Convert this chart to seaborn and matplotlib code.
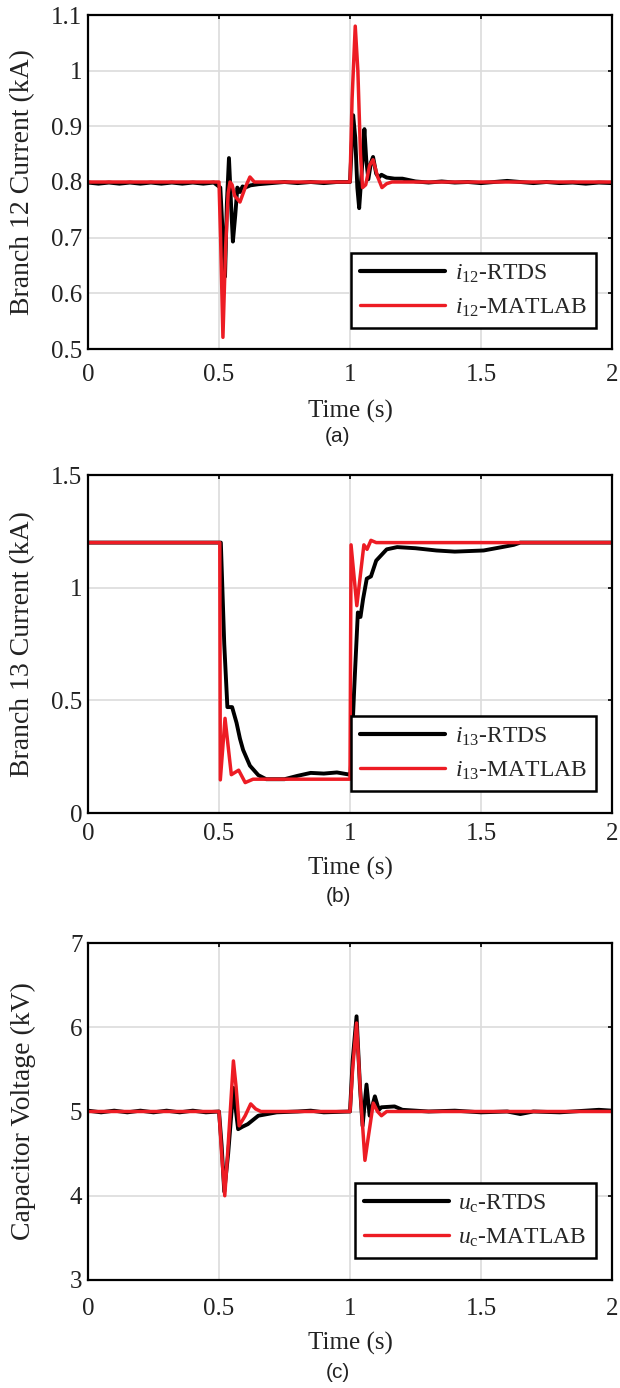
import matplotlib
matplotlib.use("Agg")
import matplotlib.pyplot as plt
import matplotlib.ticker as mticker
import pandas as pd
import seaborn as sns

# (a) branch 12 current, kA  -- (time s, value)
i12_rtds = [(0, 0.799), (0.04, 0.797), (0.08, 0.799), (0.12, 0.797), (0.16, 0.799), (0.2, 0.797),
            (0.24, 0.799), (0.28, 0.797), (0.32, 0.799), (0.36, 0.797), (0.4, 0.799), (0.44, 0.797),
            (0.48, 0.799), (0.505, 0.790), (0.515, 0.700), (0.523, 0.630), (0.53, 0.760), (0.538, 0.843),
            (0.546, 0.760), (0.553, 0.693), (0.562, 0.740), (0.57, 0.790), (0.58, 0.782), (0.59, 0.792),
            (0.6, 0.790), (0.62, 0.794), (0.65, 0.796), (0.7, 0.798), (0.75, 0.800), (0.8, 0.798),
            (0.85, 0.800), (0.9, 0.798), (0.95, 0.800), (1.0, 0.800), (1.005, 0.850), (1.012, 0.920),
            (1.02, 0.880), (1.028, 0.790), (1.035, 0.753), (1.045, 0.820), (1.055, 0.895), (1.062, 0.840),
            (1.07, 0.805), (1.08, 0.835), (1.088, 0.845), (1.1, 0.815), (1.11, 0.808), (1.12, 0.813),
            (1.14, 0.808), (1.17, 0.806), (1.2, 0.806), (1.25, 0.801), (1.3, 0.799), (1.35, 0.801),
            (1.4, 0.799), (1.45, 0.800), (1.5, 0.798), (1.55, 0.800), (1.6, 0.802), (1.65, 0.800),
            (1.7, 0.798), (1.75, 0.800), (1.8, 0.798), (1.85, 0.799), (1.9, 0.797), (1.95, 0.799), (2.0, 0.798)]
i12_matlab = [(0, 0.800), (0.5, 0.800), (0.506, 0.700), (0.515, 0.521), (0.525, 0.680), (0.535, 0.780),
              (0.542, 0.800), (0.55, 0.795), (0.56, 0.775), (0.58, 0.764), (0.6, 0.790), (0.618, 0.809),
              (0.635, 0.800), (1.0, 0.800), (1.008, 0.950), (1.02, 1.080), (1.03, 1.000), (1.04, 0.850),
              (1.048, 0.790), (1.06, 0.795), (1.075, 0.830), (1.088, 0.840), (1.105, 0.810), (1.122, 0.790),
              (1.14, 0.797), (1.16, 0.800), (2.0, 0.800)]

# (b) branch 13 current, kA
i13_rtds = [(0, 1.2), (0.507, 1.2), (0.52, 0.75), (0.532, 0.47), (0.55, 0.47), (0.567, 0.40), (0.58, 0.33),
            (0.592, 0.28), (0.618, 0.21), (0.65, 0.168), (0.68, 0.15), (0.75, 0.15), (0.8, 0.165),
            (0.85, 0.178), (0.9, 0.175), (0.95, 0.18), (1.0, 0.17), (1.002, 0.17), (1.016, 0.55),
            (1.03, 0.89), (1.04, 0.87), (1.05, 0.95), (1.064, 1.04), (1.08, 1.05), (1.1, 1.12),
            (1.14, 1.17), (1.18, 1.18), (1.25, 1.175), (1.33, 1.165), (1.4, 1.16), (1.51, 1.165),
            (1.58, 1.18), (1.625, 1.19), (1.65, 1.2), (2.0, 1.2)]
i13_matlab = [(0, 1.2), (0.503, 1.2), (0.505, 0.147), (0.523, 0.42), (0.547, 0.17), (0.575, 0.19),
              (0.6, 0.135), (0.63, 0.15), (1.0, 0.15), (1.004, 1.19), (1.026, 0.92), (1.053, 1.19),
              (1.065, 1.17), (1.08, 1.21), (1.1, 1.2), (2.0, 1.2)]

# (c) capacitor voltage, kV
uc_rtds = [(0, 5.01), (0.05, 4.99), (0.1, 5.01), (0.15, 4.99), (0.2, 5.01), (0.25, 4.99), (0.3, 5.01),
           (0.35, 4.99), (0.4, 5.01), (0.45, 4.99), (0.5, 5.0), (0.51, 4.6), (0.52, 4.05), (0.535, 4.5),
           (0.555, 5.28), (0.565, 5.0), (0.573, 4.79), (0.59, 4.82), (0.61, 4.85), (0.63, 4.9),
           (0.65, 4.95), (0.72, 4.99), (0.8, 5.0), (0.85, 5.01), (0.9, 4.99), (1.0, 5.0), (1.01, 5.6),
           (1.025, 6.13), (1.038, 5.3), (1.048, 4.83), (1.063, 5.32), (1.075, 4.95), (1.095, 5.18),
           (1.11, 5.02), (1.12, 5.05), (1.17, 5.06), (1.2, 5.02), (1.3, 5.0), (1.4, 5.01), (1.5, 4.99),
           (1.6, 5.0), (1.65, 4.97), (1.7, 5.0), (1.8, 4.99), (1.9, 5.01), (1.95, 5.02), (2.0, 5.01)]
uc_matlab = [(0, 5.0), (0.5, 5.0), (0.51, 4.5), (0.522, 4.0), (0.535, 4.6), (0.555, 5.6), (0.565, 5.3),
             (0.577, 4.83), (0.6, 4.95), (0.621, 5.09), (0.64, 5.03), (0.66, 5.0), (1.0, 5.0), (1.01, 5.5),
             (1.025, 6.05), (1.04, 5.2), (1.057, 4.42), (1.07, 4.7), (1.089, 5.1), (1.105, 5.0),
             (1.12, 4.95), (1.14, 5.0), (2.0, 5.0)]

xticks = [0, 0.5, 1, 1.5, 2]

sns.set_theme(style="whitegrid")
plt.rcParams['font.family'] = ['Liberation Serif', 'DejaVu Serif']
plt.rcParams['mathtext.fontset'] = 'custom'
plt.rcParams['mathtext.rm'] = 'Liberation Serif'
plt.rcParams['mathtext.it'] = 'Liberation Serif:italic'

fig = plt.figure(figsize=(6.2, 13.88), dpi=100)


def panel(rect, rtds, matlab, labels, ylim, yticks, ylabel, tpad, xlab_y, leg_y, cap, cap_y):
    ax = fig.add_axes(rect)
    ax.set_facecolor('white')
    for pts, col, lw, lab in [(rtds, 'black', 2.8, labels[0]), (matlab, '#ed1c24', 2.5, labels[1])]:
        df = pd.DataFrame(pts, columns=['t', 'v'])
        sns.lineplot(data=df, x='t', y='v', ax=ax, color=col, linewidth=lw, label=lab,
                     sort=False, estimator=None)
    ax.set_xlim(0, 2)
    ax.set_ylim(*ylim)
    ax.set_xticks(xticks)
    ax.set_yticks(yticks)
    fmt = mticker.FuncFormatter(lambda v, p: '%g' % v)
    ax.xaxis.set_major_formatter(fmt)
    ax.yaxis.set_major_formatter(fmt)
    ax.grid(True, color='#dcdcdc', linewidth=1.2)
    for s in ax.spines.values():
        s.set_color('black')
        s.set_linewidth(1.6)
    ax.tick_params(direction='in', length=3, width=1.2, color='black', top=True, right=True,
                   labelsize=18, labelcolor='#222222')
    ax.tick_params(axis='x', pad=tpad)
    ax.tick_params(axis='y', pad=4)
    ax.set_xlabel('Time (s)', fontsize=18, color='#222222')
    ax.set_ylabel(ylabel, fontsize=20, color='#222222')
    ax.xaxis.set_label_coords(0.5, xlab_y)
    ax.yaxis.set_label_coords(-0.10, 0.5)
    leg = ax.legend(loc='lower right', bbox_to_anchor=(0.992, leg_y), fontsize=17, frameon=True,
                    fancybox=False, edgecolor='black', framealpha=1, handlelength=3.6,
                    handletextpad=0.4, labelspacing=0.5, borderpad=0.4)
    leg.get_frame().set_linewidth(1.8)
    leg.get_lines()[0].set_linewidth(3.0)
    leg.get_lines()[1].set_linewidth(2.4)
    fig.text(338 / 620, cap_y, cap, family=['Liberation Sans', 'DejaVu Sans'], fontsize=15,
             ha='center', va='center', color='#222222')
    return ax


left, width = 88 / 620, 524 / 620
panel([left, 1 - 349 / 1388, width, 334 / 1388], i12_rtds, i12_matlab,
      [r'$i_{\mathrm{12}}$-RTDS', r'$i_{\mathrm{12}}$-MATLAB'],
      (0.5, 1.1), [0.5, 0.6, 0.7, 0.8, 0.9, 1.0, 1.1], 'Branch 12 Current (kA)',
      11, -0.153, 0.027, '(a)', 1 - 437 / 1388)
panel([left, 1 - 813 / 1388, width, 338 / 1388], i13_rtds, i13_matlab,
      [r'$i_{\mathrm{13}}$-RTDS', r'$i_{\mathrm{13}}$-MATLAB'],
      (0, 1.5), [0, 0.5, 1, 1.5], 'Branch 13 Current (kA)',
      7, -0.13, 0.03, '(b)', 1 - 897 / 1388)
panel([left, 1 - 1280 / 1388, width, 337 / 1388], uc_rtds, uc_matlab,
      [r'$u_{\mathrm{c}}$-RTDS', r'$u_{\mathrm{c}}$-MATLAB'],
      (3, 7), [3, 4, 5, 6, 7], 'Capacitor Voltage (kV)',
      13, -0.154, 0.03, '(c)', 1 - 1373 / 1388)

fig.savefig('out.png', dpi=100, facecolor='white')
